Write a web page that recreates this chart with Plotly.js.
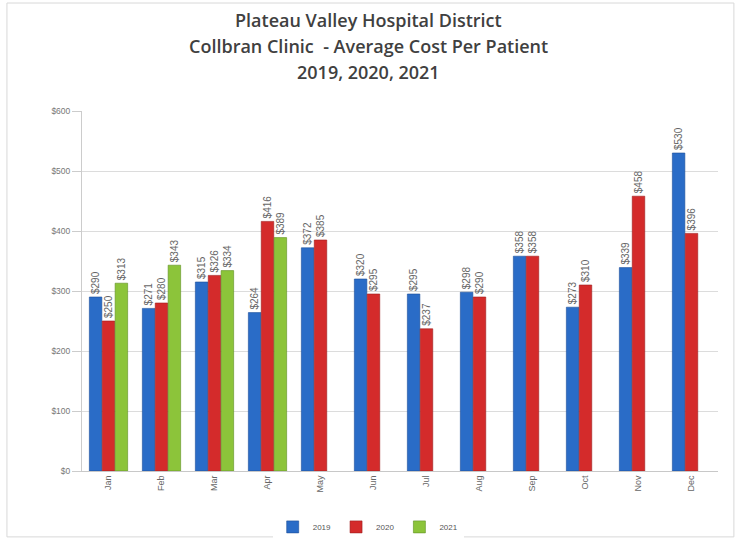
<!DOCTYPE html>
<html><head><meta charset="utf-8">
<script src="https://cdn.plot.ly/plotly-3.0.1.min.js"></script>
<style>html,body{margin:0;padding:0;background:#fff}#c{width:740px;height:546px}</style>
</head><body><div id="c"></div>
<script>
var months = ["Jan","Feb","Mar","Apr","May","Jun","Jul","Aug","Sep","Oct","Nov","Dec"];
var cost2019 = [290,271,315,264,372,320,295,298,358,273,339,530];
var cost2020 = [250,280,326,416,385,295,237,290,358,310,458,396];
var cost2021 = [313,343,334,389,null,null,null,null,null,null,null,null];
var seriesNames = ["2019","2020","2021"];
var titleLines = ["Plateau Valley Hospital District","Collbran Clinic  - Average Cost Per Patient","2019, 2020, 2021"];
var colors = ["#2a6cc7","#d42b2b","#8cc43a"];
var lineColors = ["#1d4f98","#9e1c1c","#5f8f22"];

function lbl(arr){return arr.map(function(v){return v==null?"":"$"+v;});}
var data = [cost2019,cost2020,cost2021].map(function(arr,i){
  return {type:"bar",name:seriesNames[i],x:months,y:arr,
    marker:{color:colors[i],line:{color:lineColors[i],width:0.6}},
    text:lbl(arr),textposition:"outside",textangle:-90,cliponaxis:false,constraintext:"none",
    textfont:{family:"Liberation Sans, Arial",size:10,color:"#666"},
    hoverinfo:"x+y"};
});
var titleY = [20,46,72];
var annotations = titleLines.map(function(t,i){
  return {text:t,xref:"paper",yref:"paper",x:0.45,xanchor:"center",
    y:(471-titleY[i])/360,yanchor:"middle",showarrow:false,
    font:{family:"Open Sans",size:18,color:"#404040",weight:600}};
});
var layout = {
  width:740,height:546,
  paper_bgcolor:"#fff",plot_bgcolor:"#fff",
  margin:{l:82,r:22,t:111,b:75},
  barmode:"group",bargap:0.27,bargroupgap:0.03,
  annotations:annotations,
  xaxis:{tickangle:-90,tickfont:{family:"Liberation Sans",size:9,color:"#666"},showline:true,linecolor:"#c8c8c8",ticks:"",fixedrange:true},
  yaxis:{range:[0,600],dtick:100,tickprefix:"$",tickfont:{family:"Liberation Sans",size:8.5,color:"#777"},
    gridcolor:"#dcdcdc",showline:true,linecolor:"#ccc",ticks:"outside",ticklen:9,tickcolor:"#ccc",zeroline:false},
  legend:{orientation:"h",x:0.45,xanchor:"center",yref:"container",y:0.035,yanchor:"middle",font:{family:"Liberation Sans",size:8,color:"#555"},itemwidth:30},
  shapes:[{type:"rect",xref:"paper",yref:"paper",x0:-0.118,x1:1.025,y0:-0.183,y1:1.3,line:{color:"#d8d8d8",width:1}}]
};
Plotly.newPlot("c",data,layout,{displayModeBar:false,staticPlot:true});
</script></body></html>
